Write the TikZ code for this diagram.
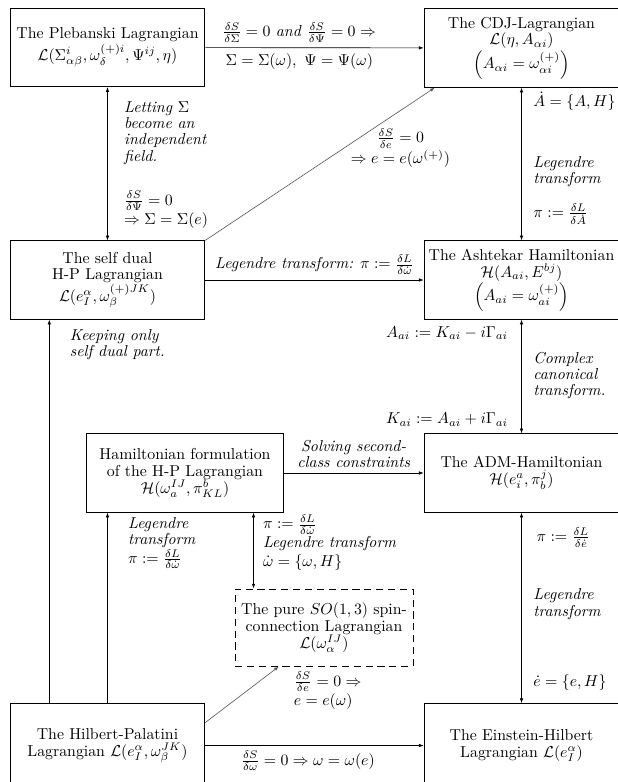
\documentclass[tikz,border=0pt]{standalone}
\usetikzlibrary{arrows.meta}
\begin{document}
\begin{tikzpicture}[x=0.632pt, y=-0.632pt, >={Latex[length=3pt,width=2.2pt]},
  box/.style={draw, line width=0.6pt, minimum width=123pt, minimum height=49.5pt, inner xsep=2pt, align=center, font=\fontsize{10}{10.6}\selectfont},
  note/.style={align=left, font=\fontsize{10}{10.2}\selectfont\itshape},
  diag/.style={->, draw=black!65}]
\useasboundingbox (0,0) rectangle (617,782);

\node[box] (pleb) at (107.5,47.5) {The Plebanski Lagrangian\\$\mathcal{L}(\Sigma^i_{\alpha\beta},\omega^{(+)i}_\delta,\Psi^{ij},\eta)$};
\node[box] (cdj) at (521.5,48) {The CDJ-Lagrangian\\$\mathcal{L}(\eta,A_{\alpha i})$\\$\left(A_{\alpha i}=\omega^{(+)}_{\alpha i}\right)$};
\node[box] (selfdual) at (107.5,280) {The self dual\\H-P Lagrangian\\$\mathcal{L}(e^\alpha_I,\omega^{(+)JK}_\beta)$};
\node[box] (ash) at (521.5,280) {The Ashtekar Hamiltonian\\$\mathcal{H}(A_{ai},E^{bj})$\\$\left(A_{ai}=\omega^{(+)}_{ai}\right)$};
\node[box, minimum width=124pt] (hamf) at (185,473) {Hamiltonian formulation\\of the H-P Lagrangian\\$\mathcal{H}(\omega^{IJ}_a,\pi^b_{KL})$};
\node[box] (adm) at (521.5,473) {The ADM-Hamiltonian\\$\mathcal{H}(e^a_i,\pi^j_b)$};
\node[box, dash pattern=on 4.5pt off 3pt, minimum width=112.5pt, minimum height=48.7pt] (pure) at (324,627.5) {The pure $SO(1,3)$ spin-\\connection Lagrangian\\$\mathcal{L}(\omega^{IJ}_\alpha)$};
\node[box, minimum height=53pt] (hp) at (107.5,745.5) {The Hilbert-Palatini\\Lagrangian $\mathcal{L}(e^\alpha_I,\omega^{JK}_\beta)$};
\node[box, minimum height=53pt] (eh) at (521.5,745.5) {The Einstein-Hilbert\\Lagrangian $\mathcal{L}(e^\alpha_I)$};

% top row
\draw[->] (pleb) -- (cdj)
  node[pos=0.43, above] {$\frac{\delta S}{\delta\Sigma}=0$ \textit{and} $\frac{\delta S}{\delta\Psi}=0\Rightarrow$}
  node[pos=0.43, below] {$\Sigma=\Sigma(\omega),\ \Psi=\Psi(\omega)$};
\draw[<->] (pleb) -- (selfdual)
  node[pos=0.3, right, xshift=7pt, note] {Letting $\Sigma$\\become an\\independent\\field.}
  node[pos=0.8, right, xshift=7pt, align=left] {$\frac{\delta S}{\delta\Psi}=0$\\$\Rightarrow\Sigma=\Sigma(e)$};
\draw[diag] (selfdual.north east) -- ([xshift=7pt]cdj.south west)
  node[pos=0.85, below=8pt, align=center] {$\frac{\delta S}{\delta e}=0$\\$\Rightarrow e=e(\omega^{(+)})$};
\draw[<->] (cdj) -- (ash)
  node[pos=0.09, right, xshift=4pt] {$\dot A=\{A,H\}$}
  node[pos=0.55, right, xshift=4pt, note] {Legendre\\transform}
  node[pos=0.83, right, xshift=4pt] {$\pi:=\frac{\delta L}{\delta\dot A}$};

% middle
\draw[->] (selfdual) -- (ash)
  node[midway, above] {\textit{Legendre transform:} $\pi:=\frac{\delta L}{\delta\dot\omega}$};
\draw[<->] (ash) -- (adm)
  node[pos=0.12, left, xshift=-5pt] {$A_{ai}:=K_{ai}-i\Gamma_{ai}$}
  node[pos=0.49, right, xshift=4pt, note] {Complex\\canonical\\transform.}
  node[pos=0.88, left, xshift=-5pt] {$K_{ai}:=A_{ai}+i\Gamma_{ai}$};
\draw[->] (hamf) -- (adm)
  node[midway, above, note, align=center] {Solving second-\\class constraints};
\draw[<->] ([xshift=12pt]pure.north west |- hamf.south) -- ([xshift=12pt]pure.north west)
  node[pos=0.4, right, xshift=2.5pt, align=left] {$\pi:=\frac{\delta L}{\delta\dot\omega}$\\\textit{Legendre transform}\\$\dot\omega=\{\omega,H\}$};

% bottom row
\draw[->] ([xshift=25pt]hp.north west) -- ([xshift=25pt]selfdual.south west)
  node[pos=0.935, right, xshift=9.5pt, note] {Keeping only\\self dual part.};
\draw[->] (hp.north) -- (hp.north |- hamf.south)
  node[pos=0.84, right, xshift=9.5pt, note] {Legendre\\transform\\$\pi:=\frac{\delta L}{\delta\dot\omega}$};
\draw[diag] ([yshift=-12.3pt]hp.north east) -- ([xshift=28pt]pure.south west)
  node[pos=1, anchor=north west, xshift=6pt, align=left] {$\frac{\delta S}{\delta e}=0\Rightarrow$\\$e=e(\omega)$};
\draw[->] (hp) -- (eh)
  node[pos=0.47, below] {$\frac{\delta S}{\delta\omega}=0\Rightarrow\omega=\omega(e)$};
\draw[<->] (adm) -- (eh)
  node[pos=0.13, right, xshift=6pt] {$\pi:=\frac{\delta L}{\delta\dot e}$}
  node[pos=0.48, right, xshift=4pt, note] {Legendre\\transform}
  node[pos=0.89, right, xshift=4pt] {$\dot e=\{e,H\}$};
\end{tikzpicture}
\end{document}
